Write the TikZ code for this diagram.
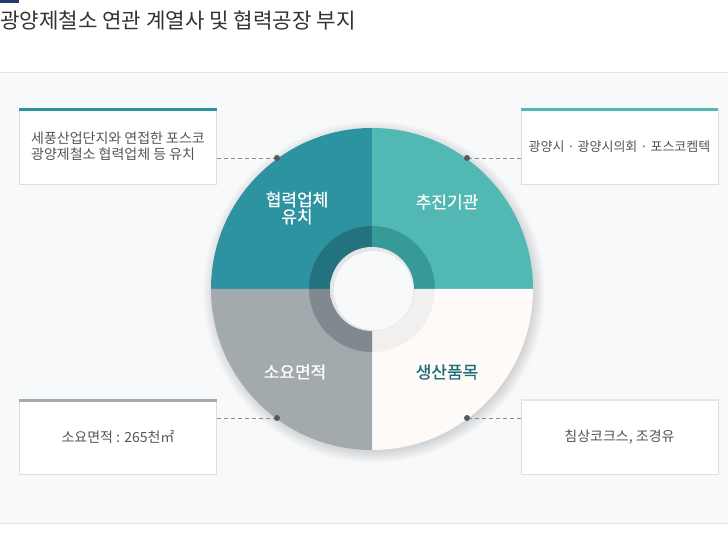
\documentclass[tikz,border=0pt]{standalone}
\usepackage{fontspec}
\setmainfont{Noto Sans CJK KR}
\newfontfamily\labelfont[FakeBold=0.5]{Noto Sans CJK KR}
\usetikzlibrary{positioning}
\definecolor{navybar}{HTML}{1F3A6B}
\definecolor{titlegray}{HTML}{333333}
\definecolor{bgpale}{HTML}{F8F9FB}
\definecolor{rulegray}{HTML}{E2E4E6}
\definecolor{boxline}{HTML}{DCDDDE}
\definecolor{txtgray}{HTML}{555555}
\definecolor{dotgray}{HTML}{555A5E}
\definecolor{linegray}{HTML}{8A8D90}
\definecolor{tealdark}{HTML}{2D93A0}
\definecolor{teallight}{HTML}{52B8B4}
\definecolor{slategray}{HTML}{A2AAAD}
\definecolor{offwhite}{HTML}{FDFAF8}
\definecolor{tealdeep}{HTML}{22737F}
\definecolor{tealmid}{HTML}{369A96}
\definecolor{slatedeep}{HTML}{7F898E}
\definecolor{offdeep}{HTML}{F2F0EE}
\definecolor{labelteal}{HTML}{1E6D78}
\definecolor{barpale}{HTML}{E6E7E8}
\tikzset{
  infobox/.style={draw=boxline,fill=white,line width=0.8pt,minimum width=197pt,
    minimum height=75pt,inner sep=0pt,font=\fontsize{14}{15.5}\selectfont,text=txtgray},
  pin/.style={circle,fill=dotgray,inner sep=0pt,minimum size=6pt},
  leader/.style={dashed,dash pattern=on 4pt off 3pt,draw=linegray,line width=0.7pt},
  qlabel/.style={font=\labelfont\fontsize{17}{19}\selectfont,text=white,align=center}
}
\begin{document}
\begin{tikzpicture}[x=1pt,y=1pt]
  \useasboundingbox (0,0) rectangle (728,535);
  \fill[white] (0,0) rectangle (728,535);
  \fill[bgpale] (0,11) rectangle (728,462);
  \draw[rulegray,line width=1pt] (0,462)--(728,462);
  \draw[rulegray,line width=1pt] (0,11)--(728,11);
  \fill[navybar] (0,532) rectangle (19,535);
  \node[anchor=west,inner sep=0pt,font=\fontsize{21.2}{24}\selectfont,text=titlegray] (title) at (0,515) {광양제철소 연관 계열사 및 협력공장 부지};

  \coordinate (c) at (372,246);
  \foreach \r in {1,...,12}
    \fill[black,opacity=0.013] ([xshift=2pt,yshift=-3pt]c) circle (159+\r);
  \fill[tealdark] (c) -- ++(180:161) arc (180:90:161) -- cycle;
  \fill[teallight] (c) -- ++(90:161) arc (90:0:161) -- cycle;
  \fill[offwhite] (c) -- ++(0:161) arc (0:-90:161) -- cycle;
  \fill[slategray] (c) -- ++(-90:161) arc (-90:-180:161) -- cycle;
  \fill[tealdeep] (c) -- ++(180:63) arc (180:90:63) -- cycle;
  \fill[tealmid] (c) -- ++(90:63) arc (90:0:63) -- cycle;
  \fill[offdeep] (c) -- ++(0:63) arc (0:-90:63) -- cycle;
  \fill[slatedeep] (c) -- ++(-90:63) arc (-90:-180:63) -- cycle;
  \shade[inner color=bgpale,outer color=bgpale!92!black] (c) circle (42);
  \fill[bgpale] ([xshift=1.5pt,yshift=-1.5pt]c) circle (39.5);

  \node[qlabel] (qTL) at (297,327) {협력업체\\[-2pt]유치};
  \node[qlabel] (qTR) at (447,333) {추진기관};
  \node[qlabel] (qBL) at (295,163) {소요면적};
  \node[qlabel,text=labelteal] (qBR) at (447,163) {생산품목};

  \node[infobox,align=left] (boxTL) at (118,388.5) {세풍산업단지와 연접한 포스코\\광양제철소 협력업체 등 유치};
  \node[infobox,font=\fontsize{13}{15}\selectfont] (boxTR) at (619.5,388.5) {광양시 · 광양시의회 · 포스코켐텍};
  \node[infobox] (boxBL) at (118,98) {소요면적 : 265천㎡};
  \node[infobox] (boxBR) at (619.5,98) {침상코크스, 조경유};
  \draw[tealdark,line width=3pt] ([yshift=-1.1pt]boxTL.north west)--([yshift=-1.1pt]boxTL.north east);
  \draw[teallight,line width=3pt] ([yshift=-1.1pt]boxTR.north west)--([yshift=-1.1pt]boxTR.north east);
  \draw[slategray,line width=3pt] ([yshift=-1.1pt]boxBL.north west)--([yshift=-1.1pt]boxBL.north east);
  \draw[barpale,line width=2pt] ([yshift=-1.1pt]boxBR.north west)--([yshift=-1.1pt]boxBR.north east);

  \node[pin] (dotTL) at (277,377) {};
  \node[pin] (dotTR) at (467,377) {};
  \node[pin] (dotBL) at (277,117) {};
  \node[pin] (dotBR) at (467,117) {};
  \draw[leader] (boxTL.east |- dotTL) -- (dotTL);
  \draw[leader] (boxTR.west |- dotTR) -- (dotTR);
  \draw[leader] (boxBL.east |- dotBL) -- (dotBL);
  \draw[leader] (boxBR.west |- dotBR) -- (dotBR);
\end{tikzpicture}
\end{document}
